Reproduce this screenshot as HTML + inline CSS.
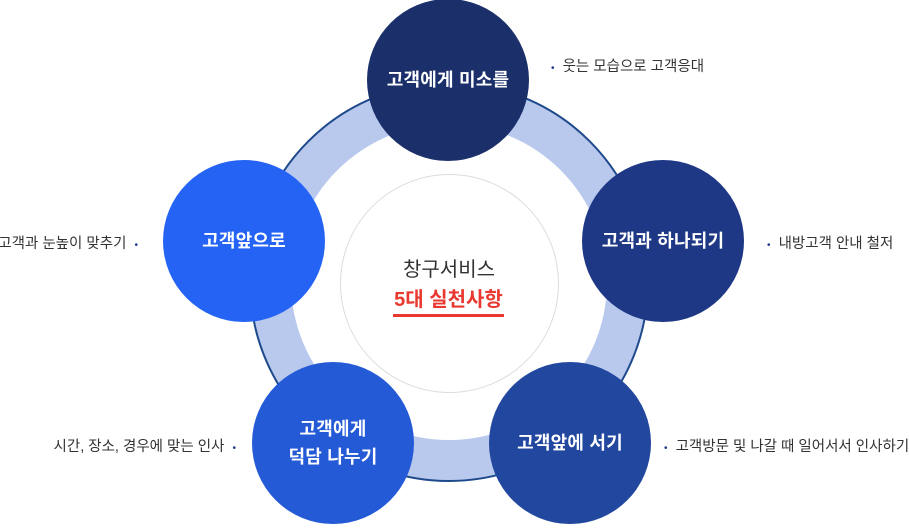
<!DOCTYPE html>
<html><head><meta charset="utf-8"><style>
body{margin:0;width:909px;height:529px;background:#fff;position:relative;overflow:hidden;font-family:"Liberation Sans","Noto Sans CJK KR",sans-serif}
.c{position:absolute;border-radius:50%;color:#fff;font-weight:bold;font-size:18px;display:flex;align-items:center;justify-content:center;text-align:center;line-height:28px;letter-spacing:0.2px}
.t{position:absolute;font-size:14.5px;color:#333;white-space:nowrap;letter-spacing:0px;line-height:16px}
.b{color:#1f3a8a;font-size:10px}
</style></head><body>
<div style="position:absolute;left:249px;top:82px;width:396px;height:396px;border-radius:50%;background:#b9c9ee;border:2px solid #1e4a8c"></div>
<div style="position:absolute;left:291px;top:124px;width:316px;height:316px;border-radius:50%;background:#fff"></div>
<div style="position:absolute;left:340px;top:174px;width:217px;height:217px;border-radius:50%;border:1px solid #dcdcdc;background:#fff"></div>
<div style="position:absolute;left:340px;top:253px;width:218px;text-align:center;font-size:20px;color:#333">창구서비스</div>
<div style="position:absolute;left:393px;top:283px;width:111px;text-align:center;font-size:20px;font-weight:bold;color:#e8382f;border-bottom:3px solid #e8382f;padding-bottom:2px;letter-spacing:0px;white-space:nowrap">5대 실천사항</div>
<div class="c" style="left:367px;top:-1px;width:162px;height:162px;background:#1b2f6b">고객에게 미소를</div>
<div class="c" style="left:582px;top:160px;width:162px;height:162px;background:#1e3886">고객과 하나되기</div>
<div class="c" style="left:163px;top:160px;width:162px;height:162px;background:#2563f5">고객앞으로</div>
<div class="c" style="left:252px;top:362px;width:162px;height:162px;background:#255ad6">고객에게<br>덕담 나누기</div>
<div class="c" style="left:489px;top:362px;width:162px;height:162px;background:#22479f">고객앞에 서기</div>
<div class="t" style="left:551px;top:59px"><span class="b">•</span>&nbsp; 웃는 모습으로 고객응대</div>
<div class="t" style="left:767px;top:236px"><span class="b">•</span>&nbsp; 내방고객 안내 철저</div>
<div class="t" style="right:771px;top:236px">고객과 눈높이 맞추기 &nbsp;<span class="b">•</span></div>
<div class="t" style="right:673px;top:439px">시간, 장소, 경우에 맞는 인사 &nbsp;<span class="b">•</span></div>
<div class="t" style="left:664px;top:439px"><span class="b">•</span>&nbsp; 고객방문 및 나갈 때 일어서서 인사하기</div>
</body></html>
